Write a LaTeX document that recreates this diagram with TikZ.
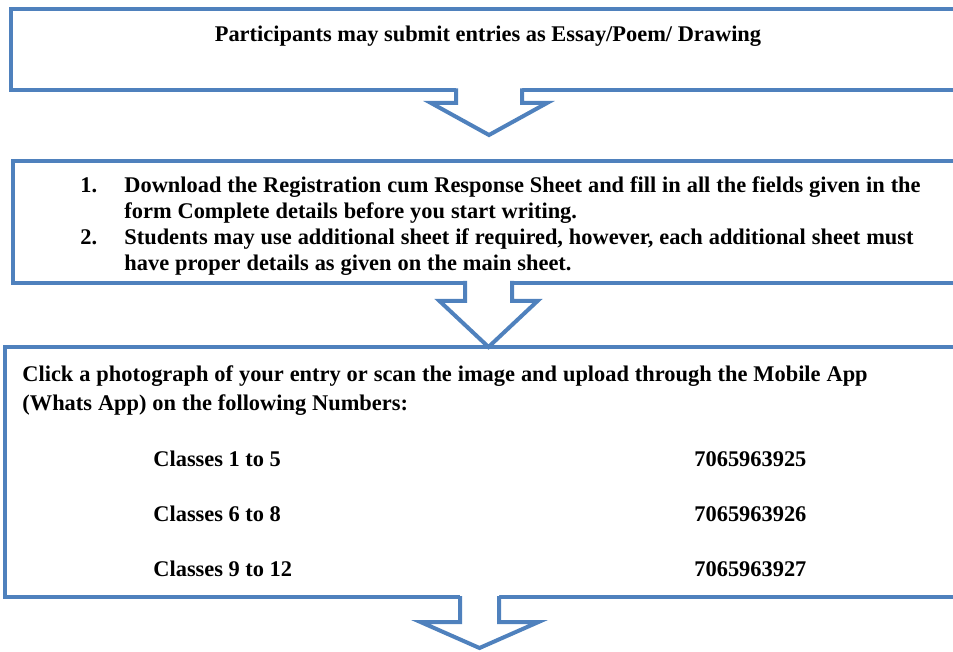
\documentclass[tikz,border=0pt]{standalone}
\usepackage{fontspec}
\setmainfont{Liberation Serif}
\usepackage{tikz}
\usetikzlibrary{positioning}
\definecolor{boxblue}{HTML}{4F81BD}
\newcommand{\tightspace}{\spaceskip=0.265em plus 0.05em\relax}

\begin{document}
\begin{tikzpicture}[x=0.5pt,y=-0.5pt,
    box/.style={draw=boxblue,line width=2pt,outer sep=0pt,inner sep=0pt,anchor=north west},
    arr/.style={draw=boxblue,line width=2pt,line join=miter},
    txt/.style={font=\bfseries\fontsize{11.2}{12.9}\selectfont,inner sep=0pt},
    para/.style={inner sep=0pt,anchor=base west,text width=480pt,align=left,
        font=\bfseries\fontsize{11.2}{#1}\selectfont}]
    \useasboundingbox (0,0) rectangle (953,652);
    \clip (0,0) rectangle (953,652);

    % the three boxes, running off the right edge
    \node[box,minimum width=490pt,minimum height=40.75pt]  (box1) at (11,9) {};
    \node[box,minimum width=490pt,minimum height=61pt]     (box2) at (13,161) {};
    \node[box,minimum width=495pt,minimum height=125pt]    (box3) at (5,347) {};

    % block arrows between the boxes
    \foreach \cx/\hw/\ow/\ty/\sy/\py in {489/33/58/90.5/103/135,
                                         488.5/23.5/49/283/301/347,
                                         479.5/19.5/59/598/622/648} {
        \fill[white] ({\cx-\hw},\ty-3) -- ({\cx-\hw},\sy) -- ({\cx-\ow},\sy) -- (\cx,\py)
            -- ({\cx+\ow},\sy) -- ({\cx+\hw},\sy) -- ({\cx+\hw},\ty-3) -- cycle;
        \draw[arr] ({\cx-\hw},\ty-2) -- ({\cx-\hw},\sy) -- ({\cx-\ow},\sy) -- (\cx,\py)
            -- ({\cx+\ow},\sy) -- ({\cx+\hw},\sy) -- ({\cx+\hw},\ty-2);
    }

    \node[txt,anchor=base] (title) at (488,42) {Participants may submit entries as Essay/Poem/ Drawing};

    \node[txt,anchor=base west] (no1) at (80,193) {1.};
    \node[para=12.9] (step1) at (124,193)
        {\tightspace Download the Registration cum Response Sheet and fill in all the fields given in the\\
         form Complete details before you start writing.};
    \node[txt,anchor=base west] (no2) at (80,245) {2.};
    \node[para=12.9] (step2) at (124,245)
        {\tightspace Students may use additional sheet if required, however, each additional sheet must\\
         have proper details as given on the main sheet.};

    \node[para=14.5] (upload) at (22,381)
        {\tightspace Click a photograph of your entry or scan the image and upload through the Mobile App\\
         (Whats App) on the following Numbers:};

    \foreach \cl/\num [count=\i] in {1 to 5/7065963925, 6 to 8/7065963926, 9 to 12/7065963927} {
        \node[txt,anchor=base west] (cls\i) at (153,{466+55*(\i-1)}) {Classes \cl};
        \node[txt,anchor=base west] (num\i) at (694,{466+55*(\i-1)}) {\num};
    }
\end{tikzpicture}
\end{document}
